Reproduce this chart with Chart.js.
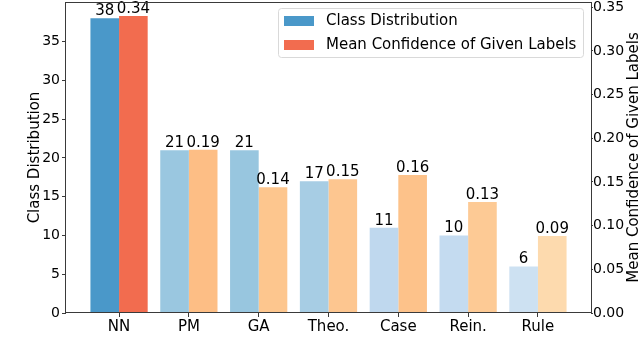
<!DOCTYPE html>
<html>
<head>
<meta charset="utf-8">
<script src="https://cdn.jsdelivr.net/npm/chart.js@4"></script>
<style>
  html, body { margin: 0; padding: 0; background: #fff; }
  #wrap { width: 640px; height: 340px; position: relative; }
</style>
</head>
<body>
<div id="wrap"><canvas id="c" width="640" height="340"></canvas></div>
<script>
const categories = ['NN', 'PM', 'GA', 'Theo.', 'Case', 'Rein.', 'Rule'];
const classCounts = [38, 21, 21, 17, 11, 10, 6];
const meanConfidence = [0.34, 0.187, 0.144, 0.153, 0.158, 0.127, 0.088];
const leftTicks = [0, 5, 10, 15, 20, 25, 30, 35];
const rightTicks = [0, 0.05, 0.10, 0.15, 0.20, 0.25, 0.30, 0.35];
const seriesNames = ['Class Distribution', 'Mean Confidence of Given Labels'];
const blueColors = ['#4a98c9', '#9ac7e0', '#98c6df', '#a7cde4', '#bfd8ee', '#c4dbf0', '#cde1f2'];
const orangeColors = ['#f26c4f', '#fdbe85', '#fdc68e', '#fdc690', '#fdc28a', '#fdca95', '#fddaae'];

const FONT = "'DejaVu Sans', 'Liberation Sans', sans-serif";

const toPoints = (vals) => vals.map((v, i) => ({ x: i, y: v }));

const zeroPad = (scale) => {
  scale.paddingTop = 0; scale.paddingBottom = 0;
  scale.paddingLeft = 0; scale.paddingRight = 0;
};

const frameAndLabels = {
  id: 'frameAndLabels',
  afterDatasetsDraw(chart) {
    const ctx = chart.ctx;
    const a = chart.chartArea;
    ctx.save();
    // value labels
    ctx.font = '15px ' + FONT;
    ctx.fillStyle = '#000';
    ctx.textAlign = 'center';
    ctx.textBaseline = 'alphabetic';
    chart.data.datasets.forEach((ds, di) => {
      const meta = chart.getDatasetMeta(di);
      meta.data.forEach((el, i) => {
        const v = ds.data[i].y;
        const txt = di === 0 ? String(v) : v.toFixed(2);
        ctx.fillText(txt, el.x, el.y - 3);
      });
    });
    // frame
    ctx.strokeStyle = '#3a3a3a';
    ctx.lineWidth = 1;
    ctx.strokeRect(Math.round(a.left) - 0.5, Math.round(a.top) + 0.5,
                   Math.round(a.right - a.left) + 1, Math.round(a.bottom - a.top) - 1);
    ctx.restore();
  },
  afterDraw(chart) {
    const ctx = chart.ctx;
    const a = chart.chartArea;
    ctx.save();
    // right axis title (reads bottom-to-top like the left one)
    ctx.font = '15px ' + FONT;
    ctx.fillStyle = '#000';
    ctx.textAlign = 'center';
    ctx.textBaseline = 'middle';
    ctx.translate(634, (a.top + a.bottom) / 2);
    ctx.rotate(-Math.PI / 2);
    ctx.fillText(seriesNames[1], 0, 0);
    ctx.setTransform(1, 0, 0, 1, 0, 0);
    // legend box
    const bx = 278.5, by = 8.5, bw = 305, bh = 49;
    ctx.beginPath();
    ctx.roundRect(bx, by, bw, bh, 3);
    ctx.fillStyle = 'rgba(255,255,255,0.8)';
    ctx.fill();
    ctx.strokeStyle = '#d9d9d9';
    ctx.lineWidth = 1;
    ctx.stroke();
    const swatches = [blueColors[0], orangeColors[0]];
    const rowsY = [21, 45];
    ctx.font = '15px ' + FONT;
    ctx.textAlign = 'left';
    ctx.textBaseline = 'middle';
    seriesNames.forEach((name, i) => {
      ctx.fillStyle = swatches[i];
      ctx.fillRect(284, rowsY[i] - 5, 30, 10);
      ctx.fillStyle = '#000';
      ctx.fillText(name, 326, rowsY[i] + 0.5);
    });
    ctx.restore();
  }
};

new Chart(document.getElementById('c'), {
  type: 'bar',
  data: {
    datasets: [
      {
        label: seriesNames[0],
        data: toPoints(classCounts),
        backgroundColor: blueColors,
        yAxisID: 'y',
        borderWidth: 0,
        barPercentage: 1.0,
        categoryPercentage: 0.82
      },
      {
        label: seriesNames[1],
        data: toPoints(meanConfidence),
        backgroundColor: orangeColors,
        yAxisID: 'y1',
        borderWidth: 0,
        barPercentage: 1.0,
        categoryPercentage: 0.82
      }
    ]
  },
  options: {
    responsive: false,
    animation: false,
    layout: { padding: { top: 2, left: 0, right: 0, bottom: 0 } },
    plugins: {
      legend: { display: false },
      tooltip: { enabled: false }
    },
    scales: {
      x: {
        type: 'linear',
        position: 'bottom',
        min: -0.76,
        max: 6.76,
        offset: false,
        afterBuildTicks: (s) => { s.ticks = categories.map((_, i) => ({ value: i })); },
        afterFit: (s) => { s.height = 27; zeroPad(s); },
        grid: { display: true, offset: false, drawOnChartArea: false, drawTicks: true, tickLength: 4, color: '#3a3a3a' },
        border: { display: false },
        ticks: {
          autoSkip: false,
          maxRotation: 0,
          padding: 1,
          color: '#000',
          font: { family: FONT, size: 15 },
          callback: (v) => categories[v]
        }
      },
      y: {
        type: 'linear',
        position: 'left',
        min: 0,
        max: 40.1,
        afterBuildTicks: (s) => { s.ticks = leftTicks.map(v => ({ value: v })); },
        afterFit: (s) => { s.width = 66; zeroPad(s); },
        grid: { display: true, drawOnChartArea: false, drawTicks: true, tickLength: 4, color: '#3a3a3a' },
        border: { display: false },
        title: {
          display: true,
          text: seriesNames[0],
          color: '#000',
          font: { family: FONT, size: 15, lineHeight: 1 },
          padding: { top: 28, bottom: 0 }
        },
        ticks: {
          padding: 2,
          color: '#000',
          font: { family: FONT, size: 14 },
          callback: (v) => String(v)
        }
      },
      y1: {
        type: 'linear',
        position: 'right',
        min: 0,
        max: 0.356,
        afterBuildTicks: (s) => { s.ticks = rightTicks.map(v => ({ value: v })); },
        afterFit: (s) => { s.width = 49; zeroPad(s); },
        grid: { display: true, drawOnChartArea: false, drawTicks: true, tickLength: 2, color: '#3a3a3a' },
        border: { display: false },
        title: { display: false },
        ticks: {
          padding: 0,
          color: '#000',
          font: { family: FONT, size: 14 },
          callback: (v) => v.toFixed(2)
        }
      }
    }
  },
  plugins: [frameAndLabels]
});
</script>
</body>
</html>
